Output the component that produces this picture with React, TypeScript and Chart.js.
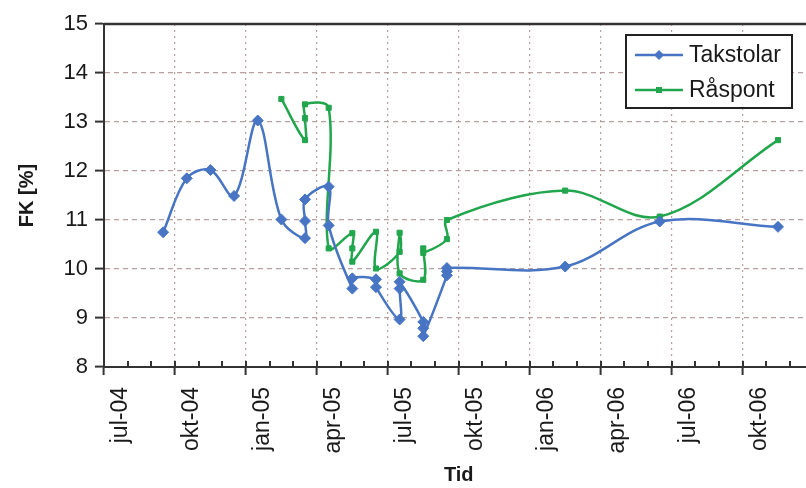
import React, { useEffect, useRef } from 'react';
import { Chart, registerables } from 'chart.js';

Chart.register(...registerables);

// ---- data ----
// x axis: month categories starting jul-2004; every 3rd month labelled
const tickLabels = ['jul-04', 'okt-04', 'jan-05', 'apr-05', 'jul-05', 'okt-05', 'jan-06', 'apr-06', 'jul-06', 'okt-06'];
const axisStart = '2004-07';
const axisMonths = 30; // jul-04 .. dec-06
const yMin = 8;
const yMax = 15;

const takMonths = [
  '2004-09', '2004-10', '2004-11', '2004-12', '2005-01', '2005-02',
  '2005-03', '2005-03', '2005-03', '2005-04', '2005-04',
  '2005-05', '2005-05', '2005-06', '2005-06',
  '2005-07', '2005-07', '2005-07', '2005-08', '2005-08', '2005-08',
  '2005-09', '2005-09', '2005-09', '2006-02', '2006-06', '2006-11',
];
const takValues = [
  10.75, 11.85, 12.02, 11.49, 13.03, 11.01,
  10.63, 10.98, 11.42, 11.68, 10.89,
  9.6, 9.81, 9.79, 9.63,
  8.97, 9.6, 9.74, 8.92, 8.79, 8.63,
  9.87, 9.95, 10.02, 10.05, 10.97, 10.86,
];

const rasMonths = [
  '2005-02', '2005-03', '2005-03', '2005-03', '2005-04', '2005-04',
  '2005-05', '2005-05', '2005-05', '2005-06', '2005-06',
  '2005-07', '2005-07', '2005-07', '2005-08', '2005-08', '2005-08',
  '2005-09', '2005-09', '2006-02', '2006-06', '2006-11',
];
const rasValues = [
  13.47, 12.63, 13.08, 13.36, 13.29, 10.42,
  10.73, 10.42, 10.15, 10.76, 10.01,
  10.35, 10.74, 9.91, 9.78, 10.42, 10.33,
  10.61, 11.0, 11.6, 11.07, 12.63,
];

const seriesNames = ['Takstolar', 'Råspont'];
const BLUE = '#4775c4';
const GREEN = '#22a64d';
const AXIS = '#333333';
const GRID = 'rgba(176,150,150,0.9)';
const FONT = '"Liberation Sans", Arial, sans-serif';

function parseMonth(s: string) {
  const [y, m] = s.split('-').map(Number);
  return y * 12 + (m - 1);
}
const startIdx = parseMonth(axisStart);
// points sit in the middle of their month category
const toX = (s: string) => parseMonth(s) - startIdx + 0.5;

const takData = takMonths.map((m, i) => ({ x: toX(m), y: takValues[i] }));
const rasData = rasMonths.map((m, i) => ({ x: toX(m), y: rasValues[i] }));

const decorPlugin = {
  id: 'decor',
  afterDraw(chart: any) {
    const { ctx, chartArea } = chart;
    const xs = chart.scales.x;
    ctx.save();
    // top border
    ctx.strokeStyle = AXIS;
    ctx.lineWidth = 2.5;
    ctx.beginPath();
    ctx.moveTo(chartArea.left, chartArea.top);
    ctx.lineTo(chartArea.right, chartArea.top);
    ctx.lineTo(chartArea.right, chartArea.bottom);
    ctx.stroke();
    // monthly tick marks inside the axis
    ctx.lineWidth = 2;
    for (let m = 0; m <= axisMonths; m++) {
      const px = Math.round(xs.getPixelForValue(m));
      ctx.beginPath();
      ctx.moveTo(px, chartArea.bottom - 6);
      ctx.lineTo(px, chartArea.bottom);
      ctx.stroke();
    }
    // legend box
    const lx = chartArea.left + 522;
    const ly = chartArea.top + 11;
    const lw = 166;
    const lh = 73;
    ctx.fillStyle = '#ffffff';
    ctx.fillRect(lx, ly, lw, lh);
    ctx.strokeStyle = '#222';
    ctx.lineWidth = 2;
    ctx.strokeRect(lx, ly, lw, lh);
    const rows = [
      { name: seriesNames[0], color: BLUE, style: 'diamond', y: ly + 20 },
      { name: seriesNames[1], color: GREEN, style: 'square', y: ly + 55 },
    ];
    rows.forEach((r) => {
      ctx.strokeStyle = r.color;
      ctx.fillStyle = r.color;
      ctx.lineWidth = 2.5;
      ctx.beginPath();
      ctx.moveTo(lx + 9, r.y);
      ctx.lineTo(lx + 57, r.y);
      ctx.stroke();
      const cx = lx + 33;
      ctx.beginPath();
      if (r.style === 'diamond') {
        ctx.moveTo(cx - 5, r.y);
        ctx.lineTo(cx, r.y - 5);
        ctx.lineTo(cx + 5, r.y);
        ctx.lineTo(cx, r.y + 5);
        ctx.closePath();
      } else {
        ctx.rect(cx - 3, r.y - 3, 6, 6);
      }
      ctx.fill();
      ctx.fillStyle = '#1a1a1a';
      ctx.font = `23px ${FONT}`;
      ctx.textAlign = 'left';
      ctx.textBaseline = 'middle';
      ctx.fillText(r.name, lx + 63, r.y + 1);
    });
    ctx.restore();
  },
};

export default function App() {
  const ref = useRef<HTMLCanvasElement | null>(null);
  useEffect(() => {
    if (!ref.current) return;
    const chart = new Chart(ref.current, {
      type: 'line',
      data: {
        datasets: [
          {
            label: seriesNames[0],
            data: takData,
            borderColor: BLUE,
            backgroundColor: BLUE,
            borderWidth: 2.5,
            pointStyle: 'rectRot',
            pointRadius: 5.5,
            pointBorderWidth: 1,
            pointBackgroundColor: BLUE,
            pointBorderColor: BLUE,
            tension: 0.35,
            fill: false,
          },
          {
            label: seriesNames[1],
            data: rasData,
            borderColor: GREEN,
            backgroundColor: GREEN,
            borderWidth: 2.5,
            pointStyle: 'rect',
            pointRadius: 3.6,
            pointBorderWidth: 1,
            pointBackgroundColor: GREEN,
            pointBorderColor: GREEN,
            tension: 0.35,
            fill: false,
          },
        ],
      },
      options: {
        responsive: false,
        animation: false,
        devicePixelRatio: 1,
        events: [],
        layout: { padding: { top: 24, right: 4, left: 0, bottom: 0 } },
        plugins: { legend: { display: false }, tooltip: { enabled: false } },
        scales: {
          x: {
            type: 'linear',
            min: 0,
            max: axisMonths,
            afterBuildTicks: (s: any) => {
              s.ticks = Array.from({ length: tickLabels.length + 1 }, (_, i) => ({ value: i * 3 }));
            },
            afterFit: (s: any) => {
              s.height = 121;
              s.paddingLeft = 0;
              s.paddingRight = 0;
            },
            grid: {
              color: GRID,
              lineWidth: 1.2,
              drawTicks: true,
              tickLength: 8,
              tickColor: AXIS,
              tickWidth: 2,
              tickBorderDash: [],
            },
            border: { display: true, color: AXIS, width: 2, dash: [2, 4] },
            ticks: {
              autoSkip: false,
              maxRotation: 90,
              minRotation: 90,
              labelOffset: 17,
              padding: 12,
              color: '#1a1a1a',
              font: { family: FONT, size: 23 },
              callback: (v: any) => tickLabels[Math.round(Number(v) / 3)] ?? '',
            },
            title: {
              display: true,
              text: 'Tid',
              color: '#1a1a1a',
              font: { family: FONT, size: 20, weight: 'bold' },
              padding: { top: 0, bottom: 1 },
            },
          },
          y: {
            type: 'linear',
            min: yMin,
            max: yMax,
            afterFit: (s: any) => {
              s.width = 104;
              s.paddingTop = 0;
              s.paddingBottom = 0;
            },
            grid: {
              color: GRID,
              lineWidth: 1.2,
              drawTicks: true,
              tickLength: 9,
              tickColor: AXIS,
              tickWidth: 2,
              tickBorderDash: [],
            },
            border: { display: true, color: AXIS, width: 2, dash: [5, 4] },
            ticks: {
              stepSize: 1,
              padding: 7,
              color: '#1a1a1a',
              font: { family: FONT, size: 22 },
            },
            title: {
              display: true,
              text: 'FK [%]',
              color: '#1a1a1a',
              font: { family: FONT, size: 20, weight: 'bold' },
              padding: { top: 15, bottom: 0 },
            },
          },
        },
      },
      plugins: [decorPlugin],
    } as any);
    return () => chart.destroy();
  }, []);
  return (
    <div style={{ position: 'absolute', left: 0, top: 0, width: 806, height: 488, overflow: 'hidden', background: '#fff' }}>
      <canvas ref={ref} width={820} height={488} style={{ display: 'block' }} />
    </div>
  );
}
